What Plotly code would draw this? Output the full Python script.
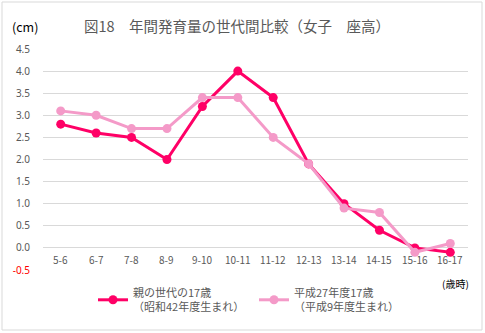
import plotly.graph_objects as go

# Age intervals (years) and yearly sitting-height growth (cm)
ages = ["5-6", "6-7", "7-8", "8-9", "9-10", "10-11", "11-12",
        "12-13", "13-14", "14-15", "15-16", "16-17"]
parent_gen = [2.8, 2.6, 2.5, 2.0, 3.2, 4.0, 3.4, 1.9, 1.0, 0.4, 0.0, -0.1]
current_gen = [3.1, 3.0, 2.7, 2.7, 3.4, 3.4, 2.5, 1.9, 0.9, 0.8, -0.1, 0.1]

y_ticks = [-0.5, 0.0, 0.5, 1.0, 1.5, 2.0, 2.5, 3.0, 3.5, 4.0, 4.5]
y_tick_text = ['<span style="color:#FF0000">-0.5</span>'] + [f"{v:.1f}" for v in y_ticks[1:]]

GRAY = "#595959"
JP_FONT = "Noto Sans CJK JP"
W, H = 485, 333
L, R, T, B = 43, 17, 49, 63
PW, PH = W - L - R, H - T - B


def px_x(x):
    """Convert a pixel column to plot-area paper units."""
    return (x - L) / PW


def px_y(y):
    """Convert a pixel row (from top) to plot-area paper units."""
    return (H - B - y) / PH


fig = go.Figure()
fig.add_trace(go.Scatter(
    x=ages, y=parent_gen, mode="lines+markers",
    name="親の世代の17歳<br>（昭和42年度生まれ）",
    line=dict(color="#FF0066", width=3),
    marker=dict(color="#FF0066", size=9),
))
fig.add_trace(go.Scatter(
    x=ages, y=current_gen, mode="lines+markers",
    name="平成27年度17歳<br>（平成9年度生まれ）",
    line=dict(color="#F49AC8", width=3),
    marker=dict(color="#F49AC8", size=9),
))

# Category labels sit just above the bottom gridline
for a in ages:
    fig.add_annotation(x=a, y=-0.5, xref="x", yref="y", text=a, showarrow=False,
                       yanchor="bottom", yshift=1,
                       font=dict(family=JP_FONT, size=10, color=GRAY))

fig.add_annotation(x=px_x(10), y=px_y(27), xref="paper", yref="paper", text="(cm)",
                   showarrow=False, xanchor="left", yanchor="middle",
                   font=dict(family=JP_FONT, size=12.5, color="#000000"))
fig.add_annotation(x=px_x(471), y=px_y(283), xref="paper", yref="paper", text="(歳時)",
                   showarrow=False, xanchor="right", yanchor="middle",
                   font=dict(family=JP_FONT, size=10, color="#000000"))

fig.add_annotation(x=px_x(237), y=px_y(26), xref="paper", yref="paper",
                   text="図18　年間発育量の世代間比較（女子　座高）",
                   showarrow=False, xanchor="center", yanchor="middle",
                   font=dict(family=JP_FONT, size=14.5, color=GRAY))

fig.update_layout(
    width=W, height=H,
    margin=dict(l=L, r=R, t=T, b=B, autoexpand=False),
    paper_bgcolor="white", plot_bgcolor="white",
    xaxis=dict(type="category", range=[-0.5, 11.5], showticklabels=False,
               showgrid=False, zeroline=False, showline=False, fixedrange=True),
    yaxis=dict(range=[-0.5, 4.5], tickvals=y_ticks, ticktext=y_tick_text,
               showgrid=True, gridcolor="#D9D9D9", gridwidth=1,
               zeroline=True, zerolinecolor="#D9D9D9", zerolinewidth=1,
               showline=False, ticks="", ticklabelstandoff=12,
               tickfont=dict(family="Noto Sans", size=10, color=GRAY)),
    legend=dict(orientation="h", xref="container", yref="container",
                x=93 / W, xanchor="left", y=1 - 279 / H, yanchor="top",
                font=dict(family=JP_FONT, size=11, color=GRAY),
                entrywidth=116, entrywidthmode="pixels",
                itemwidth=30, tracegroupgap=0, bgcolor="rgba(0,0,0,0)"),
    showlegend=True,
)

# Chart border
fig.add_shape(type="rect", xref="paper", yref="paper",
              x0=px_x(2), y0=px_y(330), x1=px_x(482), y1=px_y(2),
              line=dict(color="#D9D9D9", width=1), layer="above")

fig.write_html("out.html")
